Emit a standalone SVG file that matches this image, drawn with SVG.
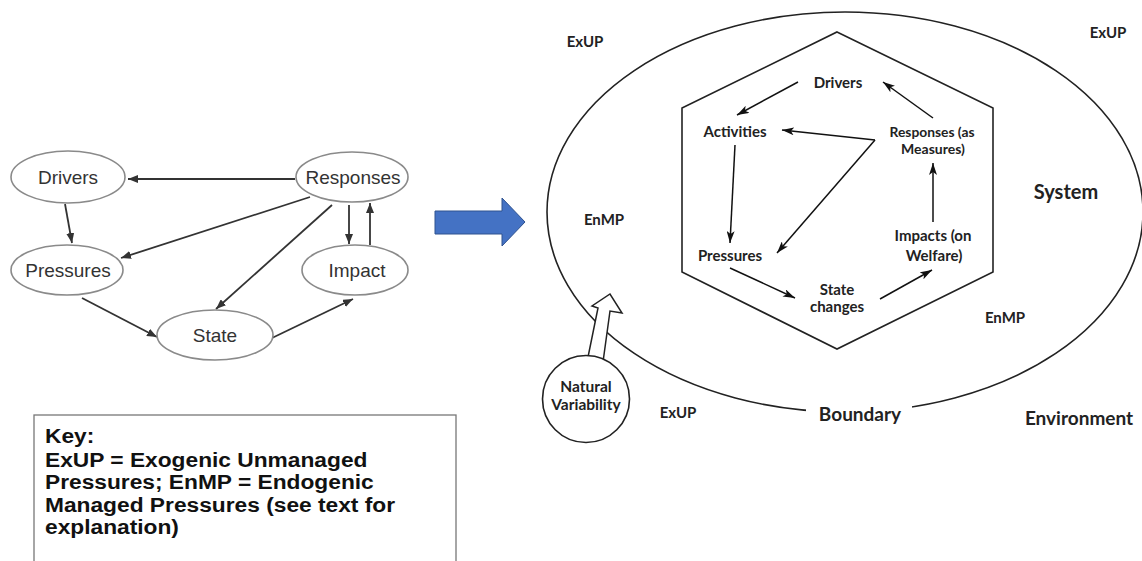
<svg xmlns="http://www.w3.org/2000/svg" width="1142" height="561" viewBox="0 0 1142 561">
<defs>
<style>
.le{fill:#fff;stroke:#8a8a8a;stroke-width:1.6}
.lt{font-family:"Liberation Sans",Arial,sans-serif;font-size:19px;fill:#333;text-anchor:middle}
.lc{stroke:#333;stroke-width:1.8;fill:none;marker-end:url(#aL)}
.rc{stroke:#111;stroke-width:1.5;fill:none;marker-end:url(#aR)}
.rt{font-family:Lato,"Open Sans",sans-serif;font-weight:bold;font-size:15px;fill:#222;text-anchor:middle}
.big{font-size:19px}
.kt{font-family:"Liberation Sans",Arial,sans-serif;font-weight:bold;font-size:20.5px;fill:#111}
.ln{fill:none;stroke:#222;stroke-width:1.6}
</style>
<marker id="aL" viewBox="0 0 10 8" refX="10" refY="4" markerWidth="10" markerHeight="8" markerUnits="userSpaceOnUse" orient="auto"><path d="M0,0 L10,4 L0,8 z" fill="#333"/></marker>
<marker id="aR" viewBox="0 0 12 8" refX="12" refY="4" markerWidth="12" markerHeight="8" markerUnits="userSpaceOnUse" orient="auto"><path d="M0,0 L12,4 L0,8 L3,4 z" fill="#111"/></marker>
</defs>
<rect width="1142" height="561" fill="#fff"/>

<!-- Left DPSIR diagram -->
<g id="left-connectors">
<line class="lc" x1="295" y1="179" x2="128" y2="179"/>
<line class="lc" x1="65" y1="204" x2="72" y2="243"/>
<line class="lc" x1="310" y1="197" x2="121" y2="258"/>
<line class="lc" x1="332" y1="205" x2="216" y2="309"/>
<line class="lc" x1="349" y1="205" x2="349" y2="244"/>
<line class="lc" x1="370" y1="245" x2="370" y2="203"/>
<line class="lc" x1="82" y1="298" x2="157" y2="337"/>
<line class="lc" x1="272" y1="338" x2="353" y2="299"/>
</g>
<g id="l-drivers"><ellipse class="le" cx="68" cy="177" rx="57" ry="26"/><text class="lt" x="68" y="184">Drivers</text></g>
<g id="l-responses"><ellipse class="le" cx="352" cy="177" rx="56" ry="25"/><text class="lt" x="353" y="184">Responses</text></g>
<g id="l-pressures"><ellipse class="le" cx="67" cy="270" rx="56" ry="25"/><text class="lt" x="68" y="277">Pressures</text></g>
<g id="l-impact"><ellipse class="le" cx="355" cy="270" rx="53" ry="25"/><text class="lt" x="357" y="277">Impact</text></g>
<g id="l-state"><ellipse class="le" cx="215" cy="335" rx="58" ry="25"/><text class="lt" x="215" y="342">State</text></g>

<!-- Blue arrow -->
<g id="blue-arrow"><path d="M435,211 L502,211 L502,198 L525,222 L502,246 L502,234 L435,234 z" fill="#4472C4" stroke="#2F528F" stroke-width="1"/></g>

<!-- Key -->
<g id="key">
<rect x="34" y="415" width="422" height="160" fill="#fff" stroke="#777" stroke-width="1.3"/>
<g transform="translate(45,0) scale(1.11,1)">
<text class="kt" x="0" y="443">Key:</text>
<text class="kt" x="0" y="467">ExUP = Exogenic Unmanaged</text>
<text class="kt" x="0" y="489">Pressures; EnMP = Endogenic</text>
<text class="kt" x="0" y="512">Managed Pressures (see text for</text>
<text class="kt" x="0" y="534">explanation)</text>
</g>
</g>

<!-- Right diagram -->
<g id="boundary">
<ellipse class="ln" cx="845" cy="212" rx="298" ry="200"/>
<rect x="806" y="398" width="106" height="28" fill="#fff"/>
<text class="rt big" x="860" y="421">Boundary</text>
</g>
<g id="system-hexagon"><polygon class="ln" points="837,32 993,108 993,272 837,349 682,272 682,108"/></g>
<g id="labels">
<text class="rt" x="585" y="47">ExUP</text>
<text class="rt" x="1108" y="38">ExUP</text>
<text class="rt" x="604" y="225">EnMP</text>
<text class="rt" x="1005" y="323">EnMP</text>
<text class="rt" x="678" y="418">ExUP</text>
<text class="rt" x="1066" y="199" style="font-size:20px">System</text>
<text class="rt big" x="1079" y="425">Environment</text>
</g>
<g id="natural-variability">
<path d="M587,362 L598,308 L592,306 L610,294 L622,313 L610,311 L603,362" fill="#fff" stroke="#222" stroke-width="1.5" stroke-linejoin="miter"/>
<circle cx="586" cy="399" r="43.5" fill="#fff" stroke="#222" stroke-width="1.6"/>
<text class="rt" x="586" y="392" style="font-size:15.5px">Natural</text>
<text class="rt" x="586" y="410" style="font-size:15.5px">Variability</text>
</g>
<g id="right-connectors">
<line class="rc" x1="798" y1="82" x2="737" y2="115"/>
<line class="rc" x1="933" y1="118" x2="883" y2="82"/>
<line class="rc" x1="875" y1="140" x2="782" y2="130"/>
<line class="rc" x1="875" y1="140" x2="777" y2="253"/>
<line class="rc" x1="735" y1="145" x2="730" y2="243"/>
<line class="rc" x1="933" y1="222" x2="933" y2="163"/>
<line class="rc" x1="730" y1="268" x2="795" y2="298"/>
<line class="rc" x1="880" y1="299" x2="932" y2="270"/>
</g>
<g id="r-drivers"><text class="rt" x="838" y="88">Drivers</text></g>
<g id="r-activities"><text class="rt" x="735" y="137">Activities</text></g>
<g id="r-responses"><text class="rt" x="932" y="137" style="font-size:14px" textLength="85" lengthAdjust="spacingAndGlyphs">Responses (as</text><text class="rt" x="933" y="154" style="font-size:14px">Measures)</text></g>
<g id="r-pressures"><text class="rt" x="730" y="261">Pressures</text></g>
<g id="r-impacts"><text class="rt" x="933" y="241">Impacts (on</text><text class="rt" x="934" y="261">Welfare)</text></g>
<g id="r-state"><text class="rt" x="837" y="295">State</text><text class="rt" x="837" y="312">changes</text></g>
</svg>
